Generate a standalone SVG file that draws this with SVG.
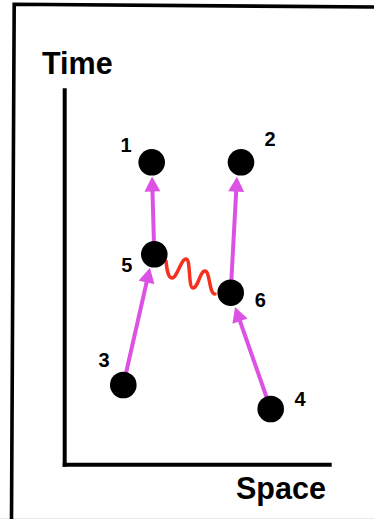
<svg xmlns="http://www.w3.org/2000/svg" width="374" height="519" viewBox="0 0 374 519">
  <style>
    .lbl { font-family: "Liberation Sans", Arial, sans-serif; font-weight: bold; fill: #000; }
    .axis-title { font-size: 30.5px; }
    .num { font-size: 20px; text-anchor: middle; }
    .arrow { stroke: #dc52e4; stroke-width: 4; fill: none; marker-end: url(#head); }
    .node { fill: #000; }
  </style>
  <defs>
    <marker id="head" markerUnits="userSpaceOnUse" markerWidth="16" markerHeight="16" viewBox="0 0 15 16" refX="10" refY="8" orient="auto">
      <path d="M0,0 L15,8 L0,16 Z" fill="#dc52e4"/>
    </marker>
  </defs>
  <rect width="374" height="519" fill="#ffffff"/>
  <line x1="0" y1="518.5" x2="374" y2="518.5" stroke="#e8e8e8" stroke-width="1"/>
  <path d="M11.5,519 L14.2,4.3 L374,7" fill="none" stroke="#000" stroke-width="3.6"/>

  <g id="axes">
    <line x1="64.7" y1="88.3" x2="64.7" y2="466.7" stroke="#000" stroke-width="4"/>
    <line x1="62.7" y1="464.7" x2="331.7" y2="464.7" stroke="#000" stroke-width="4"/>
    <text class="lbl axis-title" x="42" y="74">Time</text>
    <text class="lbl axis-title" x="236" y="499.3">Space</text>
  </g>

  <g id="connectors">
    <line class="arrow" x1="154.3" y1="254.3" x2="152.2" y2="181.5"/>
    <line class="arrow" x1="230.7" y1="292.7" x2="236.7" y2="181.7"/>
    <line class="arrow" x1="123.3" y1="385" x2="148.8" y2="272.6"/>
    <line class="arrow" x1="270.7" y1="409" x2="236.7" y2="311.7"/>
    <path id="photon" d="M166,261 C167,270 168,278 172,278 C177,278 181,259 186,259 C191,259 188,288 193,288 C198,288 200,271 205,271 C210,271 209,294 215,294" fill="none" stroke="#f5301f" stroke-width="3.5" stroke-linecap="round"/>
  </g>

  <g id="node1"><circle class="node" cx="151.7" cy="162.3" r="13.3"/><text class="lbl num" x="126" y="151.5">1</text></g>
  <g id="node2"><circle class="node" cx="241" cy="162.3" r="13.3"/><text class="lbl num" x="270" y="146">2</text></g>
  <g id="node3"><circle class="node" cx="123.3" cy="385" r="13.3"/><text class="lbl num" x="104" y="366.5">3</text></g>
  <g id="node4"><circle class="node" cx="270.7" cy="409" r="13.3"/><text class="lbl num" x="300" y="405.5">4</text></g>
  <g id="node5"><circle class="node" cx="154.3" cy="254.3" r="13.3"/><text class="lbl num" x="126.7" y="271.5">5</text></g>
  <g id="node6"><circle class="node" cx="230.7" cy="292.7" r="13.3"/><text class="lbl num" x="260.3" y="307">6</text></g>
</svg>
